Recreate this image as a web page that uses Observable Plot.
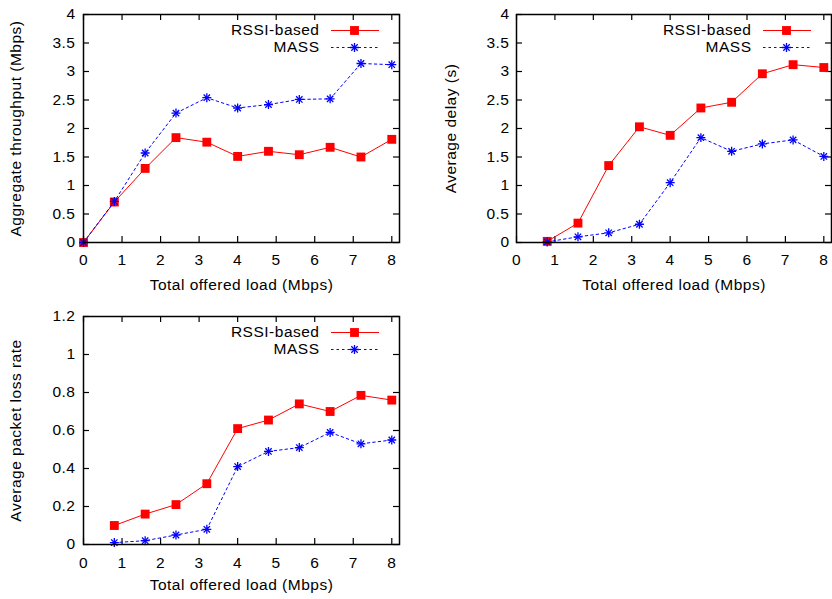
<!DOCTYPE html>
<html><head><meta charset="utf-8">
<script src="https://cdn.jsdelivr.net/npm/d3@7"></script>
<script src="https://cdn.jsdelivr.net/npm/@observablehq/plot@0.6"></script>
<style>
body{margin:0;background:#fff}
#wrap{position:relative;width:832px;height:599px;background:#fff}
.panel{position:absolute}
</style></head><body><div id="wrap"></div>
<script>
// ---- data ----
const seriesNames = ["RSSI-based", "MASS"];
const xLabel = "Total offered load (Mbps)";
const xTicks = [0, 1, 2, 3, 4, 5, 6, 7, 8];

const loadAll = [0, 0.8, 1.6, 2.4, 3.2, 4.0, 4.8, 5.6, 6.4, 7.2, 8.0];
const throughputRSSI = [0, 0.71, 1.30, 1.84, 1.76, 1.51, 1.60, 1.54, 1.67, 1.50, 1.81];
const throughputMASS = [0, 0.72, 1.57, 2.27, 2.54, 2.36, 2.42, 2.51, 2.52, 3.14, 3.12];
const throughputTicks = [0, 0.5, 1, 1.5, 2, 2.5, 3, 3.5, 4];

const loadFrom08 = [0.8, 1.6, 2.4, 3.2, 4.0, 4.8, 5.6, 6.4, 7.2, 8.0];
const delayRSSI = [0.02, 0.34, 1.35, 2.03, 1.88, 2.36, 2.46, 2.96, 3.12, 3.07];
const delayMASS = [0.01, 0.10, 0.17, 0.32, 1.05, 1.84, 1.60, 1.73, 1.80, 1.51];
const delayTicks = [0, 0.5, 1, 1.5, 2, 2.5, 3, 3.5, 4];

const lossRSSI = [0.10, 0.16, 0.21, 0.32, 0.61, 0.655, 0.74, 0.70, 0.785, 0.76];
const lossMASS = [0.01, 0.02, 0.05, 0.08, 0.41, 0.49, 0.51, 0.59, 0.53, 0.55];
const lossTicks = [0, 0.2, 0.4, 0.6, 0.8, 1, 1.2];

const RED = "#ff0000", BLUE = "#0000ff";
const fmt = d3.format("~g");

function makePanel(cfg) {
  const fw = cfg.width - cfg.ml - cfg.mr;
  const fh = cfg.height - cfg.mt - cfg.mb;
  const rssi = cfg.xs.map((x, i) => ({x, y: cfg.rssi[i]}));
  const mass = cfg.xs.map((x, i) => ({x, y: cfg.mass[i]}));
  const ytop = cfg.yTicks[cfg.yTicks.length - 1];
  const tickStyle = {stroke: "#000", strokeWidth: 1.2};
  const plot = Plot.plot({
    width: cfg.width, height: cfg.height,
    marginLeft: cfg.ml, marginRight: cfg.mr, marginTop: cfg.mt, marginBottom: cfg.mb,
    x: {domain: [0, 8.2]},
    y: {domain: [0, ytop]},
    style: {fontFamily: "'Liberation Sans', Arial, Helvetica, sans-serif", fontSize: "15.5px", color: "#000", background: "#fff", letterSpacing: "0.5px"},
    marks: [
      Plot.tickX(xTicks, {x: d => d, insetTop: fh - 6, ...tickStyle}),
      Plot.tickX(xTicks, {x: d => d, insetBottom: fh - 6, ...tickStyle}),
      Plot.tickY(cfg.yTicks, {y: d => d, insetRight: fw - 6, ...tickStyle}),
      Plot.tickY(cfg.yTicks, {y: d => d, insetLeft: fw - 6, ...tickStyle}),
      Plot.axisX(xTicks, {tickSize: 0, tickPadding: cfg.xpad, label: null, tickFormat: fmt}),
      Plot.axisY(cfg.yTicks, {tickSize: 0, tickPadding: cfg.ypad, label: null, tickFormat: fmt}),
      Plot.text([xLabel], {frameAnchor: "bottom", dy: cfg.xlabDy, text: d => d, textAnchor: "middle", lineAnchor: "middle"}),
      Plot.text([cfg.yLabel], {frameAnchor: "left", dx: cfg.ylabDx, rotate: -90, text: d => d, textAnchor: "middle", lineAnchor: "middle"}),
      // legend
      Plot.text([ytop], {y: d => d, frameAnchor: "right", dx: -80, dy: 16, textAnchor: "end", lineAnchor: "middle", text: [seriesNames[0]]}),
      Plot.text([ytop], {y: d => d, frameAnchor: "right", dx: -80, dy: 33, textAnchor: "end", lineAnchor: "middle", text: [seriesNames[1]]}),
      Plot.ruleY([ytop], {y: d => d, dy: 16, insetLeft: fw - 68, insetRight: 20, stroke: RED, strokeWidth: 1}),
      Plot.ruleY([ytop], {y: d => d, dy: 33, insetLeft: fw - 68, insetRight: 20, stroke: BLUE, strokeWidth: 1, strokeDasharray: "2.5,3"}),
      Plot.dot([ytop], {y: d => d, frameAnchor: "right", dx: -45, dy: 16, symbol: "square", fill: RED, r: 5}),
      Plot.dot([ytop], {y: d => d, frameAnchor: "right", dx: -45, dy: 33, symbol: "plus", stroke: BLUE, r: 3, strokeWidth: 1.3}),
      Plot.dot([ytop], {y: d => d, frameAnchor: "right", dx: -45, dy: 33, symbol: "times", stroke: BLUE, r: 3, strokeWidth: 1.3}),
      // data
      Plot.line(rssi, {x: "x", y: "y", stroke: RED, strokeWidth: 1}),
      Plot.dot(rssi, {x: "x", y: "y", symbol: "square", fill: RED, r: 5}),
      Plot.line(mass, {x: "x", y: "y", stroke: BLUE, strokeWidth: 1, strokeDasharray: "2.5,3"}),
      Plot.dot(mass, {x: "x", y: "y", symbol: "plus", stroke: BLUE, r: 3, strokeWidth: 1.3}),
      Plot.dot(mass, {x: "x", y: "y", symbol: "times", stroke: BLUE, r: 3, strokeWidth: 1.3}),
      Plot.frame({stroke: "#000", strokeWidth: 1.5})
    ]
  });
  const div = document.createElement("div");
  div.className = "panel";
  div.style.left = cfg.left + "px";
  div.style.top = cfg.top + "px";
  div.appendChild(plot);
  document.getElementById("wrap").appendChild(div);
}

makePanel({left: 0, top: 0, width: 416, height: 300, ml: 83, mr: 17, mt: 14, mb: 58,
  xs: loadAll, rssi: throughputRSSI, mass: throughputMASS, yTicks: throughputTicks,
  yLabel: "Aggregate throughput (Mbps)", xpad: 11, ypad: 8, xlabDy: 43, ylabDx: -67});
makePanel({left: 416, top: 0, width: 416, height: 300, ml: 100, mr: 1, mt: 14, mb: 58,
  xs: loadFrom08, rssi: delayRSSI, mass: delayMASS, yTicks: delayTicks,
  yLabel: "Average delay (s)", xpad: 11, ypad: 7, xlabDy: 43, ylabDx: -65});
makePanel({left: 0, top: 300, width: 416, height: 299, ml: 83, mr: 17, mt: 16, mb: 55,
  xs: loadFrom08, rssi: lossRSSI, mass: lossMASS, yTicks: lossTicks,
  yLabel: "Average packet loss rate", xpad: 12, ypad: 8, xlabDy: 41, ylabDx: -67});
</script></body></html>
